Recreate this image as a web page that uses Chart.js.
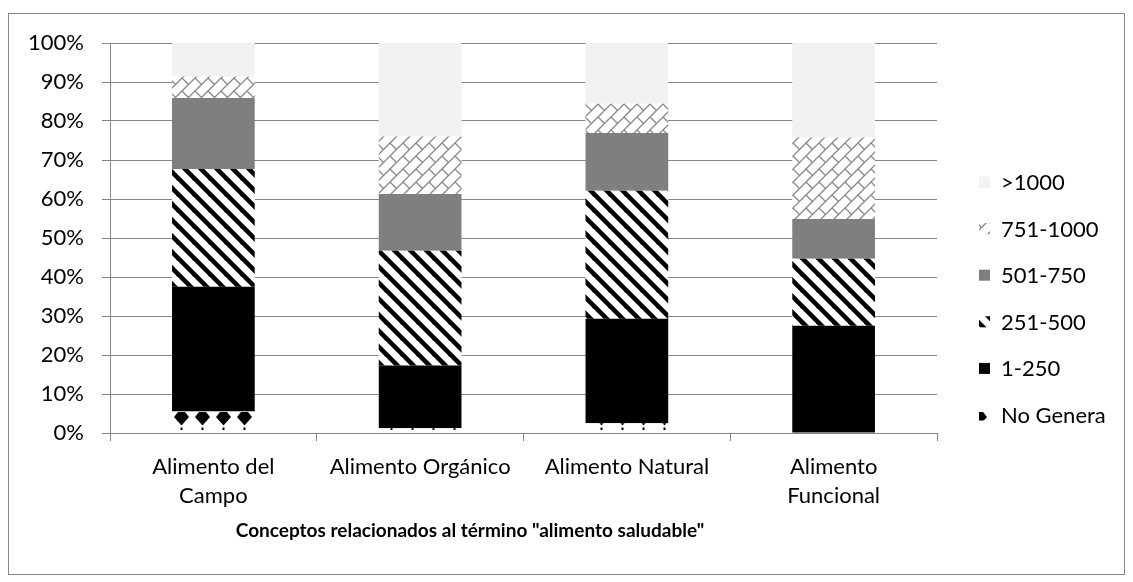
<!DOCTYPE html>
<html>
<head>
<meta charset="utf-8">
<title>Conceptos relacionados al término "alimento saludable"</title>
<script src="https://cdn.jsdelivr.net/npm/chart.js@4"></script>
<style>
  html, body { margin: 0; padding: 0; background: #fff; }
  #wrap { position: relative; width: 1133px; height: 582px; }
</style>
</head>
<body>
<div id="wrap"><canvas id="chart" width="1133" height="582"></canvas></div>
<script>
// categories and series (percent of answers per concept)
const categories = [["Alimento del", "Campo"], "Alimento Orgánico", "Alimento Natural", ["Alimento", "Funcional"]];
const seriesNames = ["No Genera", "1-250", "251-500", "501-750", "751-1000", ">1000"];
const noGenera = [5.5, 1.2, 2.5, 0];
const r1_250 = [32.0, 16.1, 26.8, 27.5];
const r251_500 = [30.2, 29.4, 32.8, 17.2];
const r501_750 = [18.2, 14.6, 14.8, 10.2];
const r751_1000 = [5.5, 14.7, 7.5, 20.9];
const over1000 = [8.6, 24.0, 15.6, 24.2];
const yTicks = [0, 10, 20, 30, 40, 50, 60, 70, 80, 90, 100];
const axisTitle = 'Conceptos relacionados al término "alimento saludable"';

const FONT = "Lato, 'Open Sans', sans-serif";
const GRID = "#878787";

function makeTile(w, h, draw) {
  const c = document.createElement("canvas");
  c.width = w; c.height = h;
  const g = c.getContext("2d");
  draw(g, w, h);
  return c;
}

const ctx = document.getElementById("chart").getContext("2d");

// black diamonds row
const diamondTile = makeTile(21, 21, (g) => {
  g.fillStyle = "#fff"; g.fillRect(0, 0, 21, 21);
  g.fillStyle = "#000";
  g.beginPath();
  g.moveTo(7, 3); g.lineTo(14, 3); g.lineTo(18, 8); g.lineTo(10.5, 16.5); g.lineTo(3, 8);
  g.closePath(); g.fill();
  g.fillRect(9.5, 18.5, 2, 2.5);
});
const diamondPat = ctx.createPattern(diamondTile, "repeat");
diamondPat.setTransform(new DOMMatrix().translate(171, 409));

// wide downward diagonal stripes
const stripeTile = makeTile(16, 16, (g) => {
  g.fillStyle = "#fff"; g.fillRect(0, 0, 16, 16);
  g.strokeStyle = "#000"; g.lineWidth = 4.6;
  for (const k of [-16, 0, 16]) {
    g.beginPath(); g.moveTo(k - 2, -2); g.lineTo(k + 18, 18); g.stroke();
  }
});
const stripePat = ctx.createPattern(stripeTile, "repeat");

// shingle pattern: "/" lines with staggered "\" joints, thin grey
const shingleTile = makeTile(26, 26, (g) => {
  g.fillStyle = "#fff"; g.fillRect(0, 0, 26, 26);
  g.strokeStyle = "#8a8a8a"; g.lineWidth = 1.3;
  const s = Math.SQRT2, d = 13 / s, L = 26 / s;
  const pt = (u, v) => [(u + v) / s, (v - u) / s];
  for (let k = -2; k <= 6; k++) {
    const a = pt(-40, k * d), b = pt(40, k * d);
    g.beginPath(); g.moveTo(a[0], a[1]); g.lineTo(b[0], b[1]); g.stroke();
    for (let m = -4; m <= 4; m++) {
      const u = m * L + (k % 2 ? L / 2 : 0);
      const p = pt(u, k * d), q = pt(u, (k + 1) * d);
      g.beginPath(); g.moveTo(p[0], p[1]); g.lineTo(q[0], q[1]); g.stroke();
    }
  }
});
const shinglePat = ctx.createPattern(shingleTile, "repeat");

const fills = [diamondPat, "#000000", stripePat, "#7f7f7f", shinglePat, "#f2f2f2"];
const values = [noGenera, r1_250, r251_500, r501_750, r751_1000, over1000];

const datasets = seriesNames.map((name, i) => ({
  label: name,
  data: values[i],
  backgroundColor: fills[i],
  borderWidth: 0,
  categoryPercentage: 1,
  barPercentage: 0.4
}));

// frame, legend and x axis title
const decor = {
  id: "decor",
  beforeDraw(chart) {
    const c = chart.ctx;
    c.save();
    c.fillStyle = "#fff";
    c.fillRect(0, 0, chart.width, chart.height);
    c.strokeStyle = GRID; c.lineWidth = 1;
    c.strokeRect(8.5, 13.5, 1116, 561);
    c.restore();
  },
  afterDraw(chart) {
    const c = chart.ctx;
    const area = chart.chartArea;
    c.save();
    c.font = "22px " + FONT;
    c.textBaseline = "middle";
    c.textAlign = "left";
    const n = chart.data.datasets.length;
    for (let i = 0; i < n; i++) {
      const ds = chart.data.datasets[n - 1 - i];
      const y = 182 + i * 46.6;
      c.fillStyle = ds.backgroundColor;
      c.fillRect(area.right + 42, y - 5.5, 11, 11);
      c.fillStyle = "#000";
      c.fillText(ds.label, area.right + 64, y + 1);
    }
    c.font = "bold 19px " + FONT;
    c.textAlign = "center";
    c.fillText(axisTitle, 470, 531);
    c.restore();
  }
};

new Chart(ctx, {
  type: "bar",
  data: { labels: categories, datasets },
  options: {
    responsive: false,
    animation: false,
    events: [],
    layout: { padding: { top: 43, right: 196, left: 0, bottom: 0 } },
    plugins: { legend: { display: false }, tooltip: { enabled: false } },
    scales: {
      x: {
        stacked: true,
        afterFit: (s) => { s.height = 149; },
        grid: { drawOnChartArea: false, color: GRID, tickLength: 8, offset: true },
        border: { color: GRID },
        ticks: {
          color: "#000",
          font: { family: FONT, size: 22, lineHeight: 1.32 },
          padding: 11,
          autoSkip: false,
          maxRotation: 0,
          minRotation: 0
        }
      },
      y: {
        stacked: true,
        min: 0,
        max: 100,
        afterFit: (s) => { s.width = 110; },
        afterBuildTicks: (s) => { s.ticks = yTicks.map((v) => ({ value: v })); },
        grid: { color: GRID, tickLength: 8 },
        border: { color: GRID },
        ticks: {
          color: "#000",
          font: { family: FONT, size: 22 },
          padding: 18,
          callback: (v) => v + "%"
        }
      }
    }
  },
  plugins: [decor]
});
</script>
</body>
</html>
